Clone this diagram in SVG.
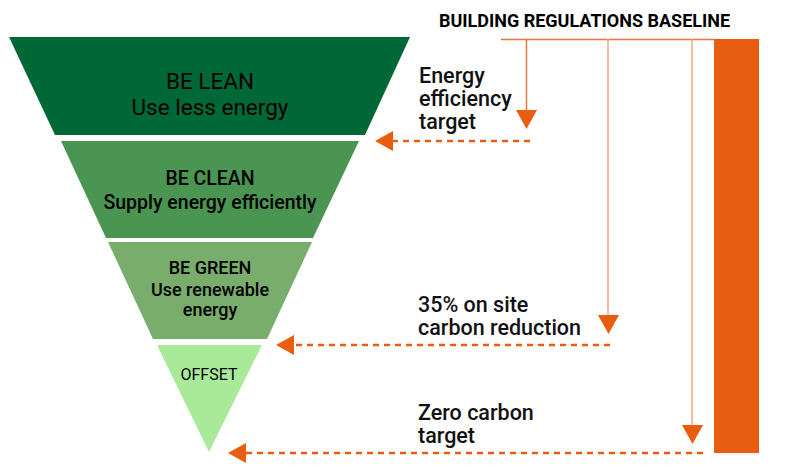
<svg xmlns="http://www.w3.org/2000/svg" width="799" height="470" viewBox="0 0 799 470">
<defs>
<style>
.t{font-family:Roboto,"Liberation Sans",sans-serif;fill:#000;text-anchor:middle}
.lbl{font-family:Roboto,"Liberation Sans",sans-serif;fill:#111;font-weight:500;font-size:21.5px}
.dash{stroke:#e85d0f;stroke-width:2.5;stroke-dasharray:6 5;fill:none}
.ah{fill:#e85d0f}
</style>
</defs>
<rect width="799" height="470" fill="#fff"/>
<g id="lean">
<polygon points="9,37 410,37 365,135 55,135" fill="#006837"/>
<text class="t" x="210" y="89" font-size="22.5">BE LEAN</text>
<text class="t" x="210" y="115" font-size="22.5">Use less energy</text>
</g>
<g id="clean">
<polygon points="61,141 359,141 313,238 106,238" fill="#4a9552"/>
<text class="t" x="210" y="185" font-size="19.5" font-weight="500">BE CLEAN</text>
<text class="t" x="210" y="209" font-size="19.5" font-weight="500">Supply energy efficiently</text>
</g>
<g id="green">
<polygon points="108,242 312,242 267,339 153,339" fill="#78ad6c"/>
<text class="t" x="210" y="274" font-size="18" font-weight="500">BE GREEN</text>
<text class="t" x="210" y="296" font-size="18" font-weight="500">Use renewable</text>
<text class="t" x="210" y="316" font-size="18" font-weight="500">energy</text>
</g>
<g id="offset">
<polygon points="157,345 262,345 209,452" fill="#a8e99a"/>
<text class="t" x="209" y="380" font-size="16">OFFSET</text>
</g>
<g id="baseline">
<text class="t" x="584.5" y="27" font-size="18" font-weight="700">BUILDING REGULATIONS BASELINE</text>
<rect x="714" y="39" width="45" height="414" fill="#e85d0f"/>
</g>
<g id="labels">
<text class="lbl" x="419" y="83">Energy</text>
<text class="lbl" x="419" y="106">efficiency</text>
<text class="lbl" x="419" y="129">target</text>
<text class="lbl" x="418" y="312">35% on site</text>
<text class="lbl" x="418" y="335">carbon reduction</text>
<text class="lbl" x="418" y="420">Zero carbon</text>
<text class="lbl" x="418" y="443">target</text>
</g>
<g id="connectors">
<line x1="501" y1="39.5" x2="714" y2="39.5" stroke="#e8763a" stroke-width="1.5"/>
<line x1="526.5" y1="39" x2="526.5" y2="112" stroke="#e8763a" stroke-width="1.5"/>
<polygon class="ah" points="516,110 537,110 526.5,129"/>
<line x1="608" y1="39" x2="608" y2="317" stroke="#f4a67e" stroke-width="1.5"/>
<polygon class="ah" points="598,315 619,315 608.5,334"/>
<line x1="692" y1="39" x2="692" y2="427" stroke="#f4a67e" stroke-width="1.5"/>
<polygon class="ah" points="682,425 703,425 692.5,444"/>
<line class="dash" x1="530" y1="141" x2="392" y2="141"/>
<polygon class="ah" points="375,141 393,131 393,151"/>
<line class="dash" x1="610" y1="345" x2="293" y2="345"/>
<polygon class="ah" points="276,345 294,335 294,355"/>
<line class="dash" x1="703" y1="453" x2="244" y2="453"/>
<polygon class="ah" points="228,453 246,443 246,463"/>
</g>
</svg>
